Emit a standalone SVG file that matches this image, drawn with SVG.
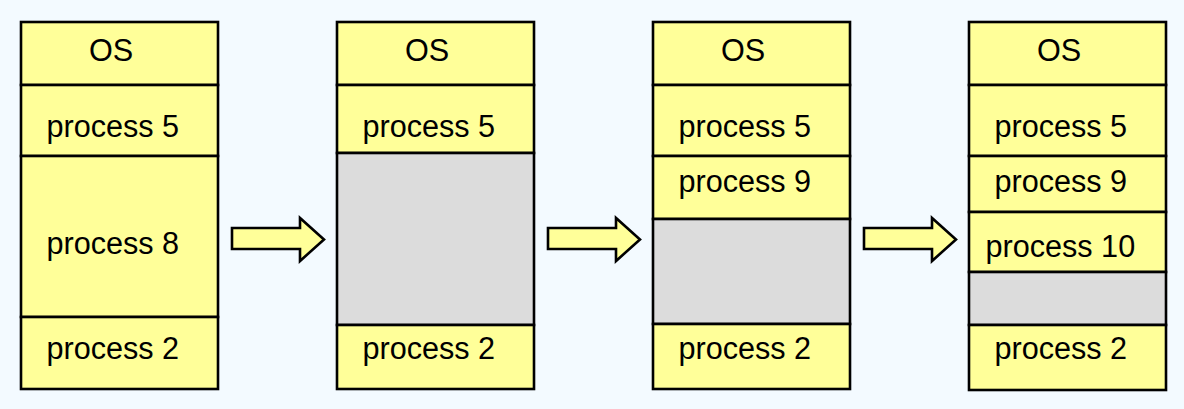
<svg xmlns="http://www.w3.org/2000/svg" width="1184" height="409" viewBox="0 0 1184 409">
<style>
.seg{fill:#FFFF99;stroke:#000;stroke-width:2.6}
.free{fill:#DCDCDC;stroke:#000;stroke-width:2.6}
.t{font-family:"Liberation Sans",Arial,sans-serif;font-size:30.6px;fill:#000}
.arr{fill:#FFFF99;stroke:#000;stroke-width:2.6;stroke-linejoin:miter}
</style>
<rect x="0" y="0" width="1184" height="409" fill="#F3FAFF"/>
<g id="mem1">
<rect class="seg" x="21" y="22" width="197" height="63"/>
<rect class="seg" x="21" y="85" width="197" height="71"/>
<rect class="seg" x="21" y="156" width="197" height="161"/>
<rect class="seg" x="21" y="317" width="197" height="72"/>
<text class="t" x="89" y="60.5">OS</text>
<text class="t" x="46.5" y="137">process 5</text>
<text class="t" x="46.5" y="254">process 8</text>
<text class="t" x="46.5" y="359">process 2</text>
</g>
<g id="mem2">
<rect class="seg" x="337" y="22" width="197" height="63"/>
<rect class="seg" x="337" y="85" width="197" height="68"/>
<rect class="free" x="337" y="153" width="197" height="172"/>
<rect class="seg" x="337" y="325" width="197" height="64"/>
<text class="t" x="405" y="60.5">OS</text>
<text class="t" x="362.5" y="137">process 5</text>
<text class="t" x="362.5" y="359">process 2</text>
</g>
<g id="mem3">
<rect class="seg" x="653" y="22" width="197" height="63"/>
<rect class="seg" x="653" y="85" width="197" height="71"/>
<rect class="seg" x="653" y="156" width="197" height="63"/>
<rect class="free" x="653" y="219" width="197" height="105"/>
<rect class="seg" x="653" y="324" width="197" height="65"/>
<text class="t" x="721" y="60.5">OS</text>
<text class="t" x="678.5" y="137">process 5</text>
<text class="t" x="678.5" y="192">process 9</text>
<text class="t" x="678.5" y="359">process 2</text>
</g>
<g id="mem4">
<rect class="seg" x="969" y="22" width="197" height="63"/>
<rect class="seg" x="969" y="85" width="197" height="71"/>
<rect class="seg" x="969" y="156" width="197" height="56"/>
<rect class="seg" x="969" y="212" width="197" height="60"/>
<rect class="free" x="969" y="272" width="197" height="53"/>
<rect class="seg" x="969" y="325" width="197" height="65"/>
<text class="t" x="1037" y="60.5">OS</text>
<text class="t" x="994.5" y="137">process 5</text>
<text class="t" x="994.5" y="192">process 9</text>
<text class="t" x="985.5" y="257">process 10</text>
<text class="t" x="994.5" y="359">process 2</text>
</g>
<g id="connectors">
<polygon class="arr" points="232,228 300,228 300,218 324,239.5 300,261 300,249 232,249"/>
<polygon class="arr" points="548,228 616,228 616,218 640,239.5 616,261 616,249 548,249"/>
<polygon class="arr" points="864,228 932,228 932,218 956,239.5 932,261 932,249 864,249"/>
</g>
</svg>
